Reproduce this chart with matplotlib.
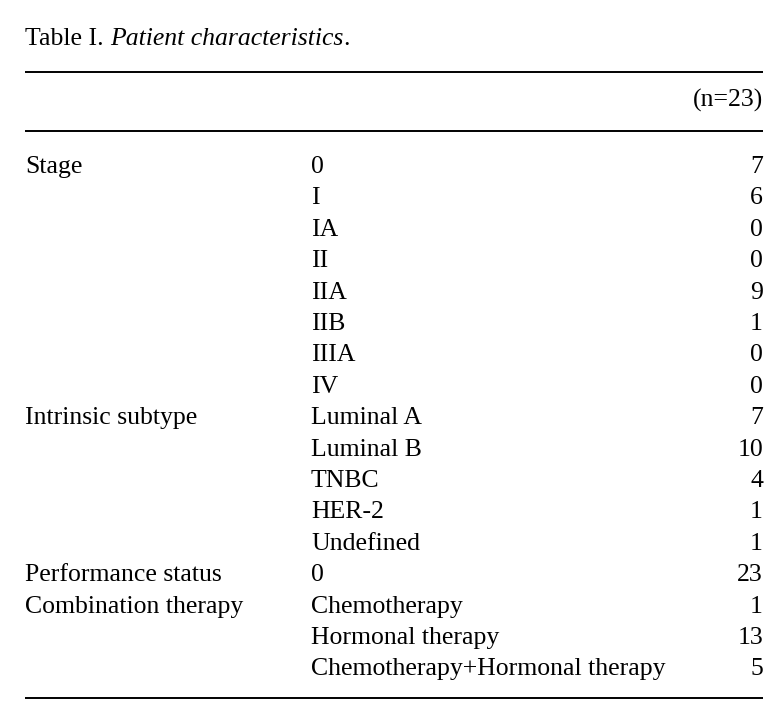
import matplotlib
matplotlib.use('Agg')
import matplotlib.pyplot as plt

# table content
groups = ['Stage', '', '', '', '', '', '', '',
          'Intrinsic subtype', '', '', '', '',
          'Performance status', 'Combination therapy', '', '']
items = ['0', 'I', 'IA', 'II', 'IIA', 'IIB', 'IIIA', 'IV',
         'Luminal A', 'Luminal B', 'TNBC', 'HER-2', 'Undefined',
         '0', 'Chemotherapy', 'Hormonal therapy', 'Chemotherapy+Hormonal therapy']
counts = [7, 6, 0, 0, 9, 1, 0, 0,
          7, 10, 4, 1, 1,
          23, 1, 13, 5]
header = '(n=23)'

plt.rcParams['font.family'] = ['Liberation Serif', 'DejaVu Serif']
fs = 18.5

fig = plt.figure(figsize=(7.79, 7.22), dpi=100)
ax = fig.add_axes([0, 0, 1, 1])
ax.set_xlim(0, 779)
ax.set_ylim(722, 0)
ax.axis('off')

x_left, x_mid, x_right = 25, 311, 763

# title: roman + italic + roman
t1 = ax.text(x_left, 45, 'Table I. ', fontsize=fs, va='baseline', ha='left')
t2 = ax.annotate('Patient characteristics', xy=(1, 0), xycoords=t1,
                 fontsize=fs, style='italic', va='bottom', ha='left')
ax.annotate('.', xy=(1, 0), xycoords=t2, fontsize=fs, va='bottom', ha='left')

for y in (72, 131, 698):
    ax.plot([x_left, x_right], [y, y], color='black', lw=1.4, solid_capstyle='butt')

ax.text(x_right, 107, header, fontsize=fs, va='baseline', ha='right')

y0, dy = 173, 31.4
for i, (g, it, c) in enumerate(zip(groups, items, counts)):
    y = y0 + i * dy
    ax.text(x_left, y, g, fontsize=fs, va='baseline', ha='left')
    ax.text(x_mid, y, it, fontsize=fs, va='baseline', ha='left')
    ax.text(x_right, y, str(c), fontsize=fs, va='baseline', ha='right')

fig.savefig('out.png', dpi=100)
